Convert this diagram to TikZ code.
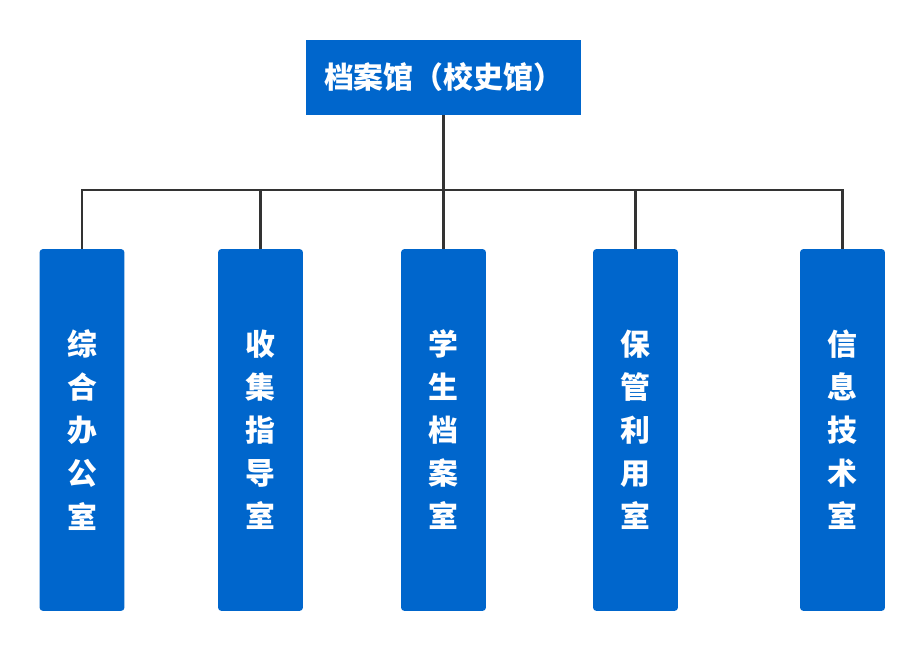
\documentclass[tikz,border=0pt]{standalone}
\usepackage{fontspec}
\newfontfamily\cjk{Noto Sans CJK SC}
\usetikzlibrary{positioning}
\definecolor{boxblue}{HTML}{0066CC}
\definecolor{linegray}{HTML}{333333}
\tikzset{
  dept/.style={fill=boxblue, rounded corners=2pt, minimum width=1.7cm, minimum height=7.24cm,
    text=white, font=\cjk\bfseries\fontsize{17}{24.5}\selectfont, align=center, inner sep=0pt},
  head/.style={fill=boxblue, minimum width=5.5cm, minimum height=1.5cm,
    text=white, font=\cjk\bfseries\fontsize{17}{20}\selectfont, inner sep=0pt},
  link/.style={draw=linegray, line width=1.5pt}
}
\begin{document}
\begin{tikzpicture}[x=0.02cm, y=-0.02cm]
  \useasboundingbox (0,0) rectangle (924,651);
  % Top node
  \node [head] (top) at (443.5,77.5) {档案馆（校史馆）};
  % Departments
  \node [dept] (d1) at (82,430) {综\\合\\办\\公\\室};
  \node [dept] (d2) at (260.5,430) {收\\集\\指\\导\\室};
  \node [dept] (d3) at (443.5,430) {学\\生\\档\\案\\室};
  \node [dept] (d4) at (635.5,430) {保\\管\\利\\用\\室};
  \node [dept] (d5) at (842.5,430) {信\\息\\技\\术\\室};
  % Connectors
  \coordinate (bus) at (443.5,190);
  \draw [link] (top.south) -- (bus);
  \draw [link] (d1.north) |- (bus) -| (d5.north);
  \foreach \d in {d2,d3,d4}
    \draw [link] (\d.north) -- (\d.north |- bus);
\end{tikzpicture}
\end{document}
